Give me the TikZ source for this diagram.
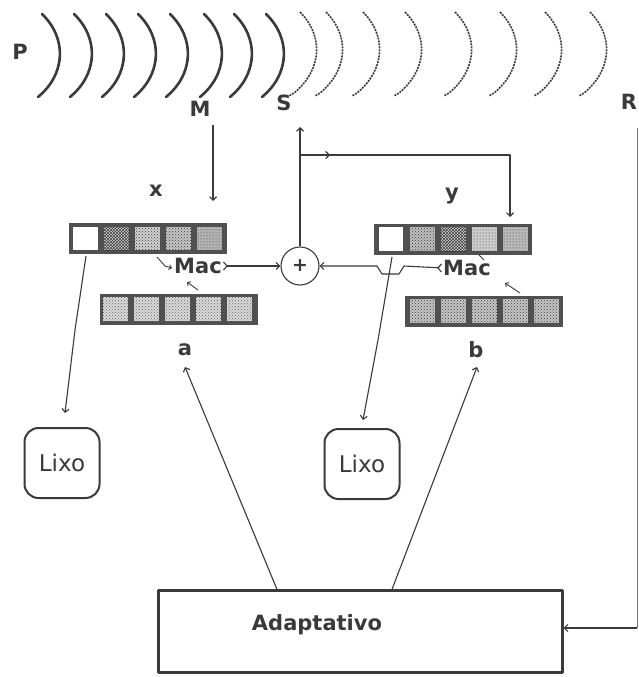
\documentclass[tikz,border=0pt]{standalone}
\usepackage{fontspec}
\setmainfont{DejaVu Sans}
\usetikzlibrary{arrows.meta,patterns}
\definecolor{ink}{HTML}{3A3A3A}
\definecolor{regfill}{HTML}{505050}
\begin{document}
\begin{tikzpicture}[x=1pt,y=-1pt,line join=round,
  ln/.style={draw=ink,line width=1.1pt},
  tip/.style={-{Straight Barb[length=3.5pt,width=7pt]}},
  tiptail/.style={{Straight Barb[reversed,length=3.5pt,width=8pt]}-{Straight Barb[length=3.5pt,width=7pt]}},
  lbl/.style={font=\bfseries\fontsize{21}{21}\selectfont,text=ink,inner sep=0pt},
  mac/.style={font=\bfseries\fontsize{21}{21}\selectfont,text=ink,inner sep=1pt},
  reg/.style={fill=regfill,draw=regfill,minimum width=157pt,minimum height=30pt,inner sep=0pt},
  lixobox/.style={draw=ink,line width=2pt,rounded corners=14pt,minimum width=75pt,minimum height=70pt,
    font=\fontsize{23}{23}\selectfont,text=ink,inner sep=0pt},
  wave/.style={draw=ink,line width=2.6pt,line cap=round},
  dwave/.style={draw=ink,line width=1.6pt,dash pattern=on 2pt off 1pt}]
\useasboundingbox[fill=white] (0,0) rectangle (638,677);

% waves
\node[lbl] (P) at (20,52) {P};
\foreach \a in {38,70,102,134,166,200,230,262}
  \draw[wave] (\a+4,14) .. controls (\a+29,38) and (\a+28,74) .. (\a,97);
\foreach \a in {292,318,355,397,447,492,537,582}
  \draw[dwave] (\a+8,12) .. controls (\a+32,36) and (\a+30,70) .. (\a+2,93) -- (\a-3,96);

\node[lbl] (M) at (200,109) {M};
\node[lbl] (S) at (284,103) {S};
\node[lbl] (R) at (629,102) {R};

% register x
\node[lbl] (xl) at (156,191) {x};
\node[reg] (regx) at (147.5,238) {};
\fill[white] (73,227) rectangle ++(25,23);
\foreach \i/\pat/\bg in {1/crosshatch/gray!35,2/crosshatch dots/gray!35,3/crosshatch dots/gray!45,4/dots/gray!60}
  \fill[preaction={fill=\bg},pattern=\pat,pattern color=ink] ({73+31*\i},227) rectangle ++(25,23);

% register a
\node[reg] (rega) at (178.5,309) {};
\foreach \i in {0,...,4}
  \fill[preaction={fill=gray!30},pattern=crosshatch dots,pattern color=gray!80!black] ({103+31*\i},297) rectangle ++(25,24);
\node[lbl] (al) at (185,350) {a};

% register y
\node[lbl] (yl) at (452,196) {y};
\node[reg] (regy) at (452.5,239) {};
\fill[white] (379,227) rectangle ++(24,24);
\foreach \i/\pat/\bg in {1/crosshatch dots/gray!50,2/crosshatch/gray!35,3/dots/gray!40,4/dots/gray!55}
  \fill[preaction={fill=\bg},pattern=\pat,pattern color=ink] ({379+31*\i},227) rectangle ++(25,24);

% register b
\node[reg] (regb) at (484,311) {};
\foreach \i in {0,...,4}
  \fill[preaction={fill=gray!45},pattern=crosshatch dots,pattern color=ink] ({410+31*\i},299) rectangle ++(25,24);
\node[lbl] (bl) at (476,350) {b};

% Mac units and sum
\node[mac] (macl) at (198,266) {Mac};
\node[mac] (macr) at (467,268) {Mac};
\node[circle,draw=ink,line width=1.1pt,minimum size=38pt,inner sep=0pt,
      font=\bfseries\fontsize{19}{19}\selectfont,text=ink] (sum) at (300,266) {+};

\coordinate (xin) at (213,201);
\coordinate (Min) at (213,125);
\draw[ln,tip] (Min) -- (xin);

\draw[ln,tiptail] (macl.east) -- (sum.west);
\draw[ln,tiptail] (macr.west) -- (404,266) -- (399,274) -- (382,274) -- (377,266) -- (sum.east);

\coordinate (Sout) at (300,127);
\coordinate (br) at (300,155);
\coordinate (yin) at (510,217);
\draw[ln,tip] (sum.north) -- (Sout);
\draw[ln,tip] (br) -- (yin |- br) -- (yin);
\draw[ln,tip] (br) -- (330,155);

% small feed arrows into Mac
\draw[ln,line width=0.9pt,-{Straight Barb[length=2.5pt,width=5pt]}] (157,257) -- (165,266) -- (172,268);
\draw[ln,line width=0.9pt,-{Straight Barb[length=2.5pt,width=5pt]}] (198,290) -- (187,282);
\draw[ln,line width=0.9pt] (479,255) -- (484,260);
\draw[ln,line width=0.9pt,-{Straight Barb[length=2.5pt,width=5pt]}] (520,293) -- (505,283);

% Lixo
\node[lixobox] (lixol) at (62,463) {Lixo};
\node[lixobox] (lixor) at (362,464) {Lixo};
\coordinate (xout) at (86,256);
\coordinate (yout) at (392,257);
\draw[ln,tip] (xout) -- (75,330) -- ([xshift=3pt,yshift=14pt]lixol.north);
\draw[ln,tip] (yout) -- (378,340) -- ([xshift=1pt,yshift=8pt]lixor.north);

% Adaptativo
\node[draw=ink,line width=2.2pt,minimum width=404pt,minimum height=82pt,inner sep=0pt] (adapt) at (360.5,631.5) {};
\node[lbl] (adtxt) at (317,625) {Adaptativo};
\coordinate (aout) at (185,367);
\coordinate (bout) at (477,367);
\draw[ln,tip] ([xshift=-83.5pt]adapt.north) -- (aout);
\draw[ln,tip] ([xshift=31.5pt]adapt.north) -- (bout);

\coordinate (Rtop) at (637,128);
\coordinate (Rbot) at (637,628);
\draw[draw=ink!70,line width=1pt] (Rtop) -- (Rbot);
\draw[ln,tip] (Rbot) -- (adapt.east |- Rbot);
\end{tikzpicture}
\end{document}
